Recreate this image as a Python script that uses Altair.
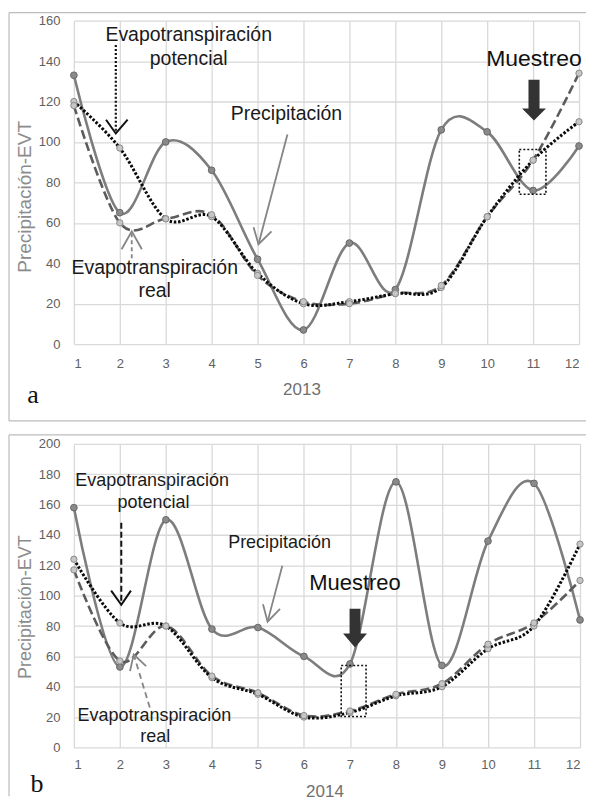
import altair as alt
import pandas as pd

# ---------------- data ----------------
months = list(range(1, 13))

precip_2013 = [133, 65, 100, 86, 42, 7, 50, 27, 106, 105, 76, 98]
etp_2013 = [120, 97, 62, 63, 35, 20, 21, 25, 28, 63, 91, 110]
etr_2013 = [118, 60, 62, 64, 34, 21, 20, 25, 29, 63, 91, 134]

precip_2014 = [158, 53, 150, 78, 79, 60, 55, 175, 54, 136, 174, 84]
etp_2014 = [124, 82, 80, 46, 35, 20, 23, 34, 40, 65, 80, 134]
etr_2014 = [117, 57, 80, 47, 36, 21, 24, 35, 42, 68, 82, 110]

y_ticks_2013 = list(range(0, 161, 20))
y_ticks_2014 = list(range(0, 201, 20))

# annotation labels (data coordinates: month, value)
ann_text_2013 = ["Evapotranspiración", "potencial", "Precipitación", "Evapotranspiración", "real"]
ann_x_2013 = [3.5, 3.5, 5.63, 2.76, 2.76]
ann_y_2013 = [153, 141.2, 114, 37.5, 26.2]

ann_text_2014 = ["Evapotranspiración", "potencial", "Precipitación", "Evapotranspiración", "real"]
ann_x_2014 = [2.7, 2.73, 5.47, 2.75, 2.77]
ann_y_2014 = [175.7, 161, 135, 21, 6.6]

muestreo_2013 = [11.02, 141]
muestreo_2014 = [7.11, 108.5]

# sampling box [month1, month2, value1, value2]
box_2013 = [10.7, 11.28, 74.1, 96.3]
box_2014 = [6.81, 7.35, 20.4, 54.0]

# block arrow centre [month, value]
block_2013 = [11.02, 120.7]
block_2014 = [7.11, 78.6]

# pointer arrows: stem and head polylines
etp_stem_2013 = [(1.913, 148), (1.913, 105.5)]
etp_head_2013 = [(1.70, 111), (1.913, 104.2), (2.17, 111)]
pre_stem_2013 = [(5.65, 103.7), (5.02, 49.4)]
pre_head_2013 = [(4.913, 57.8), (5.02, 49.4), (5.304, 55.8)]
etr_stem_2013 = [(2.26, 54.8), (2.26, 41.5)]
etr_head_2013 = [(2.04, 46.9), (2.26, 55.8), (2.48, 46.9)]

etp_stem_2014 = [(2.03, 148), (2.03, 95.5)]
etp_head_2014 = [(1.81, 103.3), (2.03, 94.0), (2.24, 103.3)]
pre_stem_2014 = [(5.53, 119.7), (5.21, 82.9)]
pre_head_2014 = [(5.11, 94.3), (5.21, 82.9), (5.48, 91.3)]
etr_stem_2014 = [(2.65, 26.3), (2.30, 61.2)]
etr_head_2014 = [(2.22, 50.3), (2.30, 61.2), (2.57, 53.6)]

FONT = "Liberation Sans"
BLOCK_PATH_A = "M-0.27,-1L0.27,-1L0.27,0.415L0.585,0.415L0,1L-0.585,0.415L-0.27,0.415Z"
BLOCK_PATH_B = "M-0.28,-1L0.28,-1L0.28,0.28L0.615,0.28L0,1L-0.615,0.28L-0.28,0.28Z"


def series_df(p, etp, etr):
    rows = []
    for name, vals in (("Precipitación", p), ("ETP", etp), ("ETR", etr)):
        for m, v in zip(months, vals):
            rows.append({"month": m, "value": v, "serie": name})
    return pd.DataFrame(rows)


def poly_df(points):
    return pd.DataFrame({
        "month": [q[0] for q in points],
        "value": [q[1] for q in points],
        "ord": list(range(len(points))),
    })


one = pd.DataFrame({"k": [0]})


def panel(year, p, etp, etr, yticks, width, height, fs, mfs,
          ann_t, ann_x, ann_y, mues, box, block, block_path, block_size,
          arrows, ytitle_y, ytitle_fs, xtitle_x, xtitle_y, xlab_pad,
          letter, letter_xy, frame):
    df = series_df(p, etp, etr)
    X = alt.X("month:Q", scale=alt.Scale(domain=[1, 12], nice=False, zero=False),
              axis=alt.Axis(values=months, format="d", title=str(year),
                            titleX=xtitle_x, titleY=xtitle_y, titleBaseline="middle",
                            titleFontSize=17, titleColor="#707070",
                            labelPadding=xlab_pad))
    Y = alt.Y("value:Q", scale=alt.Scale(domain=[0, yticks[-1]], nice=False),
              axis=alt.Axis(values=yticks, title="Precipitación-EVT",
                            titleY=ytitle_y, titleFontSize=ytitle_fs,
                            titleColor="#8c8c8c", titlePadding=4, labelPadding=14))
    base = alt.Chart(df)
    precip_line = base.transform_filter("datum.serie == 'Precipitación'").mark_line(
        interpolate="cardinal", color="#7d7d7d", strokeWidth=2.6).encode(x=X, y=Y)
    etr_line = base.transform_filter("datum.serie == 'ETR'").mark_line(
        interpolate="cardinal", color="#5c5c5c", strokeWidth=2.6, strokeDash=[9, 4]).encode(x=X, y=Y)
    etp_line = base.transform_filter("datum.serie == 'ETP'").mark_line(
        interpolate="cardinal", color="#0a0a0a", strokeWidth=3, strokeDash=[2.5, 1.8]).encode(x=X, y=Y)
    pre_pts = base.transform_filter("datum.serie == 'Precipitación'").mark_circle(
        size=45, color="#8a8a8a", stroke="#666666", strokeWidth=1, opacity=1).encode(x=X, y=Y)
    et_pts = base.transform_filter("datum.serie != 'Precipitación'").mark_circle(
        size=40, color="#c6c6c6", stroke="#8a8a8a", strokeWidth=1, opacity=1).encode(x=X, y=Y)

    tdf = pd.DataFrame({"label": ann_t, "month": ann_x, "value": ann_y})
    texts = alt.Chart(tdf).mark_text(font=FONT, fontSize=fs, color="#1a1a1a",
                                     align="center", baseline="middle").encode(
        x=X, y=Y, text="label:N")
    mdf = pd.DataFrame({"label": ["Muestreo"], "month": [mues[0]], "value": [mues[1]]})
    mtext = alt.Chart(mdf).mark_text(font=FONT, fontSize=mfs, color="#111111",
                                     align="center", baseline="middle").encode(
        x=X, y=Y, text="label:N")
    bdf = pd.DataFrame({"month": [box[0]], "month2": [box[1]], "value": [box[2]], "value2": [box[3]]})
    boxl = alt.Chart(bdf).mark_rect(fill="white", fillOpacity=0, stroke="#111111",
                                    strokeDash=[2, 2], strokeWidth=1.6).encode(
        x=X, x2="month2:Q", y=Y, y2="value2:Q")
    kdf = pd.DataFrame({"month": [block[0]], "value": [block[1]]})
    blk = alt.Chart(kdf).mark_point(shape=block_path, size=block_size, filled=True,
                                    color="#333333", opacity=1, strokeWidth=0).encode(x=X, y=Y)

    arrow_layers = []
    for pts, color, w, dash in arrows:
        kw = {}
        if dash:
            kw["strokeDash"] = dash
        arrow_layers.append(
            alt.Chart(poly_df(pts)).mark_line(color=color, strokeWidth=w, **kw).encode(
                x=X, y=Y, order="ord:Q"))

    frame_layers = []
    for (x1, x2, y1, y2) in frame:
        frame_layers.append(
            alt.Chart(one).mark_rule(color="#bcbcbc", strokeWidth=1.2).encode(
                x=alt.value(x1), x2=alt.value(x2), y=alt.value(y1), y2=alt.value(y2)))

    let = alt.Chart(one).mark_text(font="Liberation Serif", fontSize=26, color="#111111",
                                   align="center", baseline="middle").encode(
        x=alt.value(letter_xy[0]), y=alt.value(letter_xy[1]), text=alt.value(letter))

    layers = [precip_line, etr_line, etp_line, pre_pts, et_pts, texts, mtext, boxl, blk] \
        + arrow_layers + frame_layers + [let]
    return alt.layer(*layers).properties(width=width, height=height)


pa = panel(
    2013, precip_2013, etp_2013, etr_2013, y_ticks_2013, 506, 324, 19.5, 23,
    ann_text_2013, ann_x_2013, ann_y_2013, muestreo_2013, box_2013, block_2013,
    BLOCK_PATH_A, 1681,
    [(etp_stem_2013, "#111111", 2.2, [2, 2]), (etp_head_2013, "#111111", 2.0, None),
     (pre_stem_2013, "#858585", 1.8, None), (pre_head_2013, "#858585", 1.8, None),
     (etr_stem_2013, "#858585", 1.8, [4, 3]), (etr_head_2013, "#858585", 1.8, None)],
    176, 19, 228, 45, 13, "a", (-41, 375),
    [(-65, 513, -8, -8), (-65, -65, -8, 401), (-65, 513, 401, 401)],
)

pb = panel(
    2014, precip_2014, etp_2014, etr_2014, y_ticks_2014, 507, 304, 18, 22,
    ann_text_2014, ann_x_2014, ann_y_2014, muestreo_2014, box_2014, block_2014,
    BLOCK_PATH_B, 1521,
    [(etp_stem_2014, "#111111", 2.0, [6, 3]), (etp_head_2014, "#111111", 2.0, None),
     (pre_stem_2014, "#858585", 1.8, None), (pre_head_2014, "#858585", 1.8, None),
     (etr_stem_2014, "#858585", 1.8, [6, 4]), (etr_head_2014, "#858585", 1.8, None)],
    163, 18, 251, 44, 11, "b", (-37, 341),
    [(-65, 513, -9, -9), (-65, -65, -9, 353)],
)

chart = alt.vconcat(pa, pb, spacing=100, bounds="flush").properties(
    padding={"left": 0, "top": 3, "right": 0, "bottom": 0}
).configure_view(strokeWidth=0).configure_axis(
    grid=True, gridColor="#d9d9d9", gridWidth=1.3, domain=False, ticks=False,
    labelFont=FONT, labelFontSize=13, labelColor="#606060",
    titleFont=FONT, titleFontWeight="normal",
)

chart.save("out.html", embed_options={"renderer": "svg", "actions": False})
